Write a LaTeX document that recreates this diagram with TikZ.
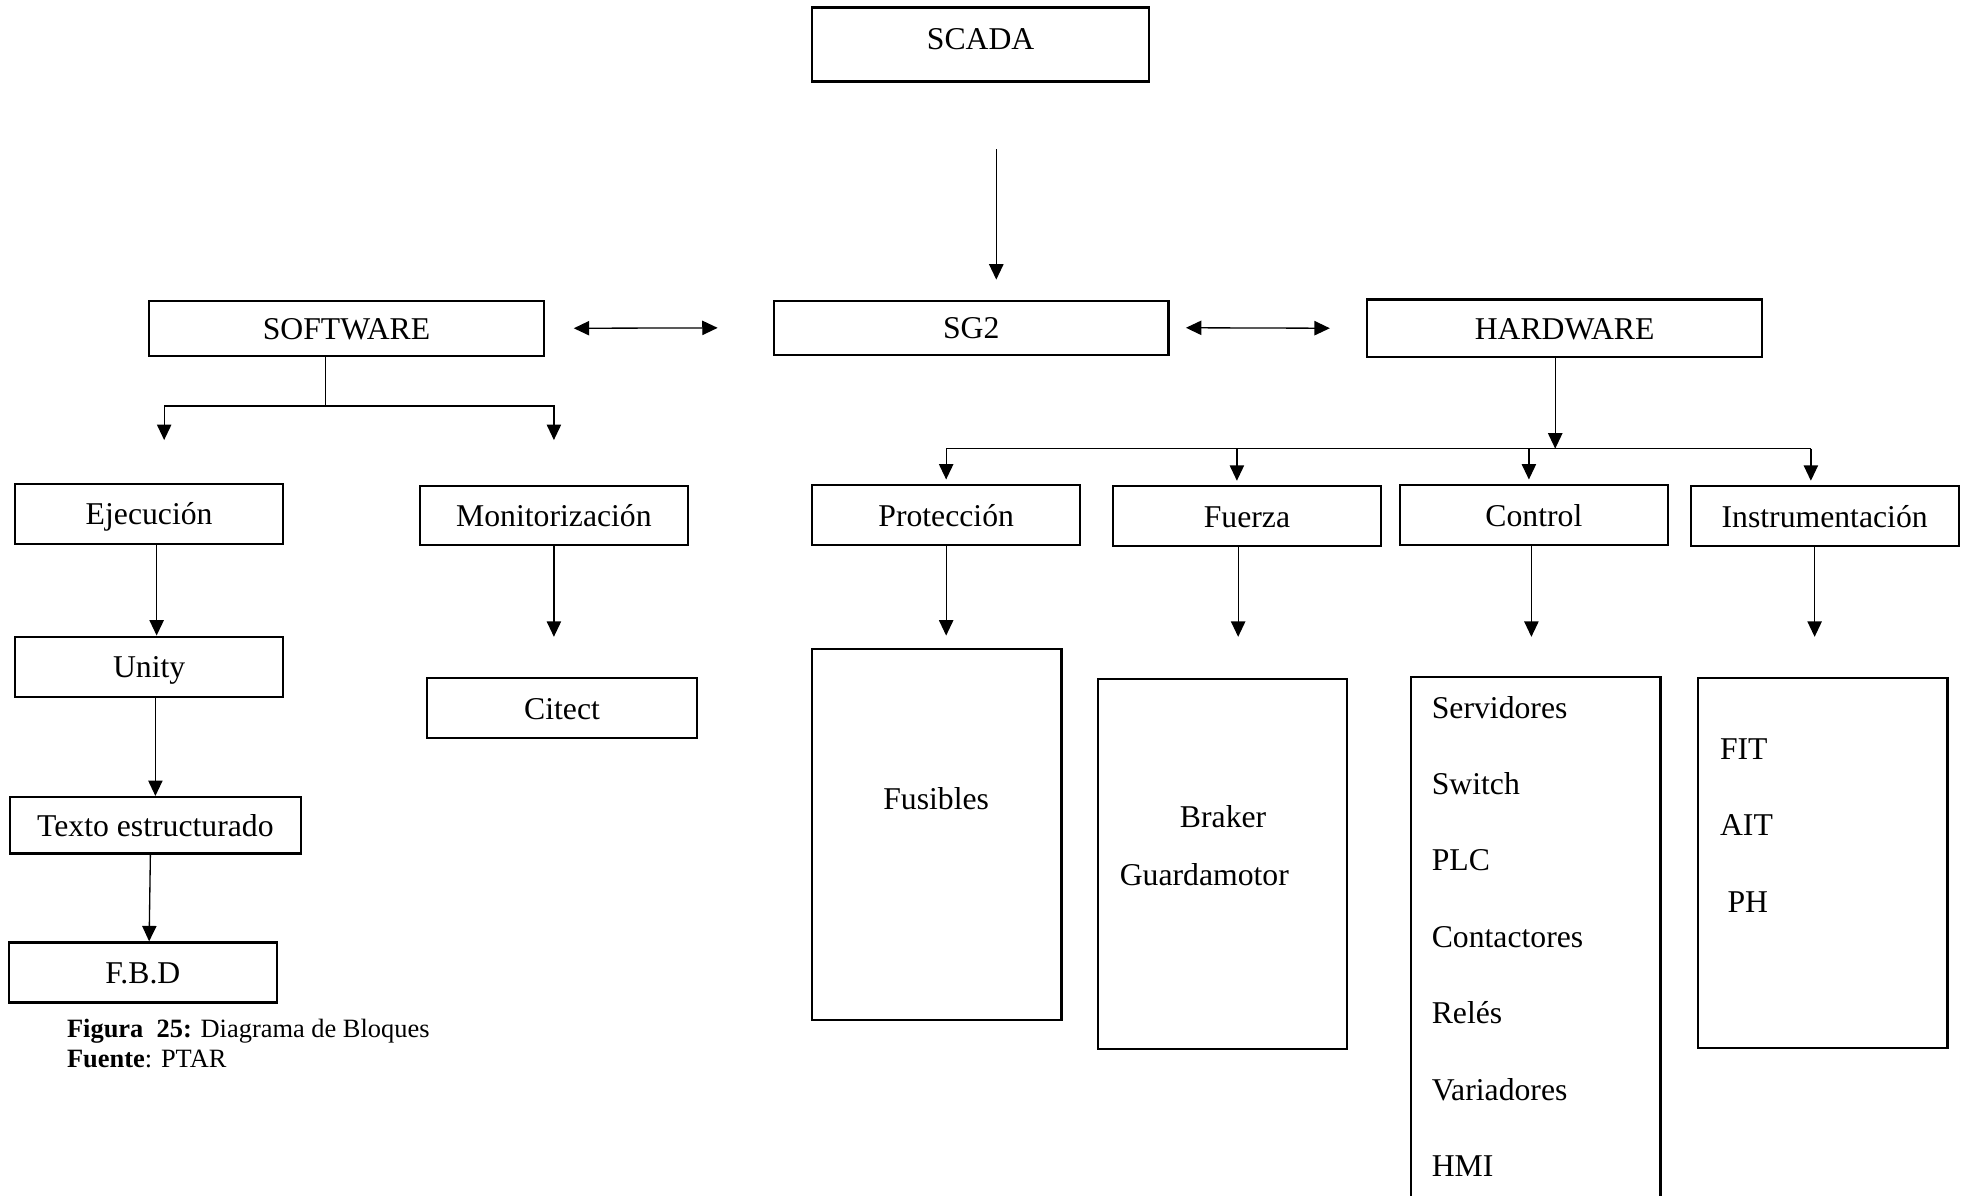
\documentclass[tikz,border=0pt]{standalone}
\usepackage{fontspec}
\setmainfont{Liberation Serif}
\usetikzlibrary{arrows.meta}
\tikzset{
  box/.style={draw, line width=1pt, inner sep=0pt, text height=10pt, text depth=0pt, minimum width=4.28cm, minimum height=0.96cm},
  widebox/.style={box, minimum width=6.3cm, minimum height=0.88cm},
  tallbox/.style={box, minimum width=3.98cm, minimum height=5.9cm},
  arr/.style={-{Triangle[length=7pt,width=6.5pt]}},
  dbl/.style={{Triangle[length=7pt,width=6.5pt]}-{Triangle[length=7pt,width=6.5pt]}},
  listitem/.style={anchor=base west, inner sep=0pt},
}
\begin{document}
\begin{tikzpicture}[x=0.02cm, y=-0.02cm, line width=0.6pt, font=\fontsize{14.4pt}{17pt}\selectfont]
  \useasboundingbox (0,0) rectangle (1568,954);
  \draw
    (782.5,35.5) node[box, minimum width=5.38cm, minimum height=1.18cm, text depth=5pt] (scada){SCADA}
    (775,261.5) node[widebox, minimum height=0.86cm] (sg2){SG2}
    (276.5,262) node[widebox] (soft){SOFTWARE}
    (1248.5,262) node[widebox, minimum height=0.92cm] (hard){HARDWARE}
    (119,410) node[box] (ejec){Ejecución}
    (442,411.5) node[box, minimum height=0.94cm] (moni){Monitorización}
    (119,532) node[box] (unity){Unity}
    (124,658.5) node[box, minimum width=4.64cm, minimum height=0.9cm] (texto){Texto estructurado}
    (114,776) node[box] (fbd){F.B.D}
    (448.5,565) node[box, minimum width=4.3cm] (citect){Citect}
    (755,411) node[box] (prot){Protección}
    (995,412) node[box] (fuer){Fuerza}
    (1224,411) node[box] (ctrl){Control}
    (1456,412) node[box] (inst){Instrumentación};
  \draw
    (747.5,666) node[tallbox, minimum height=5.92cm] (fus){}
    (975.5,689.5) node[tallbox] (brk){}
    (1225.5,750) node[tallbox, minimum height=8.4cm] (ctrlbox){}
    (1454.5,688.5) node[tallbox] (instbox){};
  \node (fus1) at (747,637) {Fusibles};
  \node (brk1) at (976,652) {Braker};
  \node (brk2) at (961,698) {Guardamotor};
  \foreach \t [count=\i] in {Servidores, Switch, PLC, Contactores, Relés, Variadores, HMI}
    \node[listitem] (ctl\i) at (1142, 512+61*\i) {\t};
  \foreach \t/\x [count=\i] in {FIT/1372, AIT/1372, PH/1378}
    \node[listitem] (ins\i) at (\x, 545+61*\i) {\t};
  \node[listitem, font=\fontsize{12pt}{14pt}\selectfont] (cap1) at (53,828) {\textbf{Figura\ \ 25:} Diagrama de Bloques};
  \node[listitem, font=\fontsize{12pt}{14pt}\selectfont] (cap2) at (53,852) {\textbf{Fuente}: PTAR};

  \coordinate (c0) at (795,119);
  \draw[arr, shorten >=0.32cm] (c0) -- (c0 |- sg2.north);
  \draw[dbl, shorten <=0.46cm, shorten >=0.88cm] (soft.east) -- (sg2.west);
  \draw[dbl, shorten <=0.26cm, shorten >=0.58cm] (sg2.east) -- (hard.west);

  \coordinate (j1) at (260,324);
  \draw (j1 |- soft.south) -- (j1);
  \draw[arr, shorten >=0.68cm] (j1) -| ([xshift=0.24cm]ejec.north);
  \draw[arr, shorten >=0.72cm] (j1) -| (moni.north);
  \draw[arr] ([xshift=0.12cm]ejec.south) -- ([xshift=0.12cm]unity.north);
  \draw[arr] (texto.north |- unity.south) -- (texto.north);
  \draw[arr] ([xshift=-0.08cm]texto.south) -- ([xshift=0.1cm]fbd.north);
  \draw[arr, shorten >=0.64cm] (moni.south) -- (moni.south |- citect.north);

  \coordinate (j2) at (1241,358);
  \draw[arr] (j2 |- hard.south) -- (j2);
  \foreach \n/\s in {prot/0, fuer/-0.16, ctrl/-0.08, inst/-0.22}
    \coordinate (\n-t) at ([xshift=\s cm]\n.north);
  \draw (prot-t |- j2) -- (inst-t |- j2);
  \foreach \n in {prot, fuer, ctrl, inst}
    \draw[arr, shorten >=0.07cm] (\n-t |- j2) -- (\n-t);
  \foreach \n/\s/\b/\g in {prot/0/fus/0.2, fuer/-0.14/brk/0.66, ctrl/-0.04/ctrlbox/0.62, inst/-0.16/instbox/0.64}
    \draw[arr, shorten >=\g cm] ([xshift=\s cm]\n.south) -- ([xshift=\s cm]\n.south |- \b.north);
\end{tikzpicture}
\end{document}
